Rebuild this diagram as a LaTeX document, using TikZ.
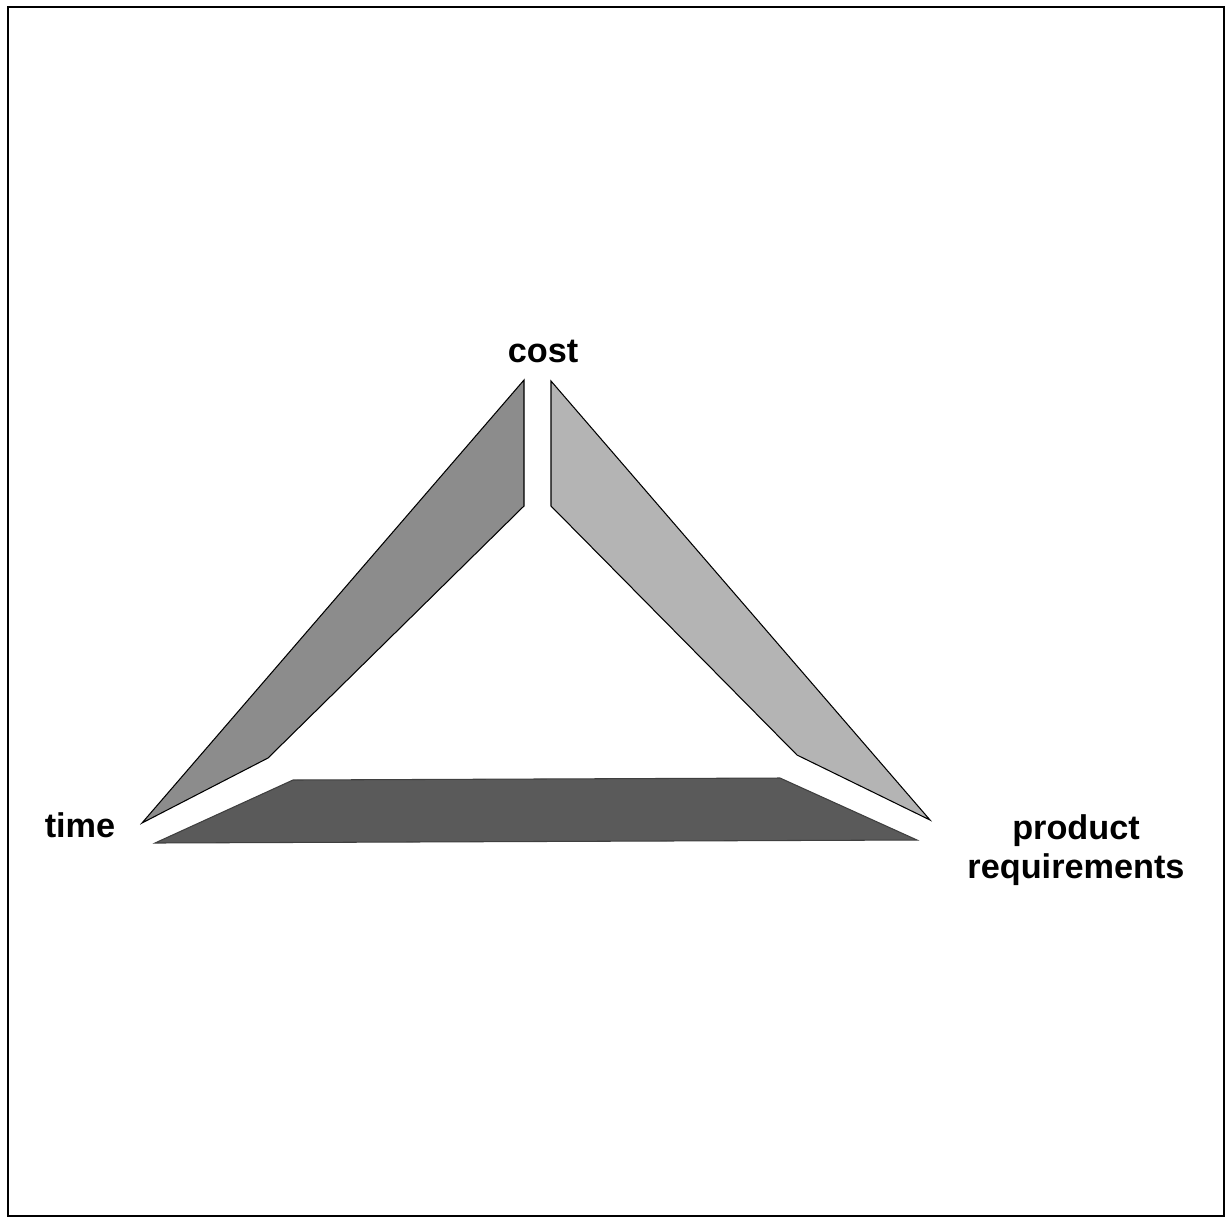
\documentclass[tikz,border=0pt]{standalone}
\usepackage{fontspec}
\setmainfont{Liberation Sans}
\usepackage{xcolor}
\usepackage{tikz}
\usetikzlibrary{positioning}
\definecolor{costgray}{HTML}{8C8C8C}
\definecolor{reqgray}{HTML}{B4B4B4}
\definecolor{timegray}{HTML}{5A5A5A}

\begin{document}
\begin{tikzpicture}[
  x=0.02cm, y=-0.02cm,
  label/.style={font=\bfseries\fontsize{19.5}{22}\selectfont,inner sep=0pt,anchor=base,align=center},
  bar/.style={draw=black,line width=0.6pt,line join=miter}
]
\useasboundingbox (0,0) rectangle (1227,1218);
\draw[line width=1pt] (8,7) rectangle (1224,1216);

% the three bars of the triangle
\filldraw[bar,fill=costgray] (524,380) -- (524,506) -- (268,758) -- (142,823) -- cycle;
\filldraw[bar,fill=reqgray] (551,381) -- (551,506) -- (797,755) -- (930,820) -- cycle;
\filldraw[bar,draw=timegray!70!black,fill=timegray] (293,780) -- (780,778) -- (917,840) -- (155,843) -- cycle;

% corner labels
\node[label] (cost) at (543,362) {cost};
\node[label] (time) at (80,837) {time};
\node[label] (req) at (1076,878) {product\\requirements};
\end{tikzpicture}
\end{document}
